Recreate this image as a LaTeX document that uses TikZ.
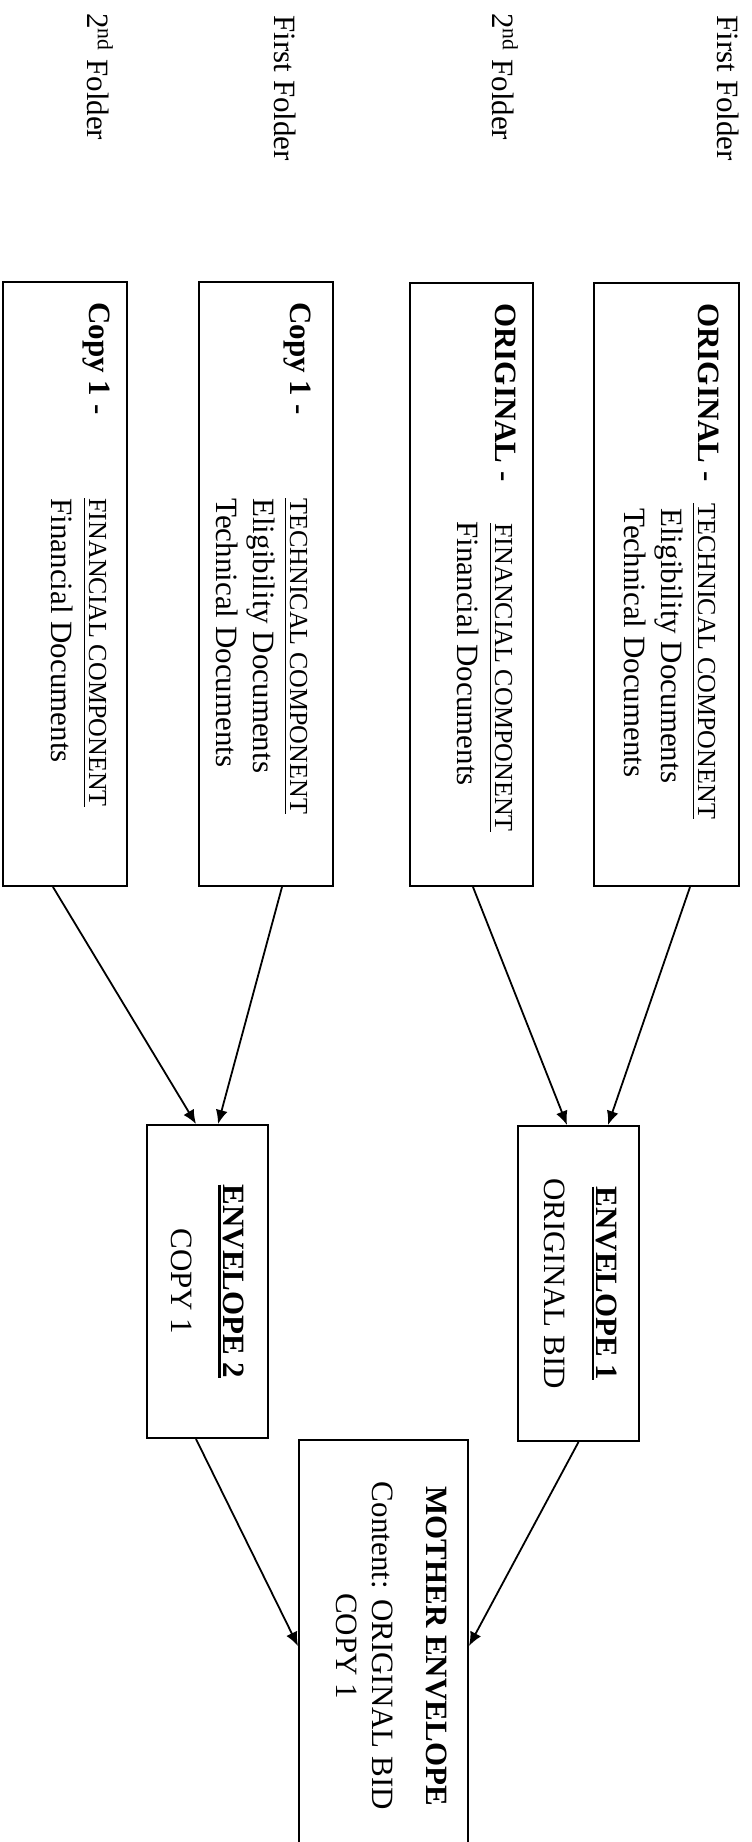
\documentclass[tikz,border=0pt]{standalone}
\usepackage{fontspec}
\setmainfont{Liberation Serif}
\usetikzlibrary{arrows.meta,calc}
\newsavebox\ulsavebox
\newcommand\ulbox[2]{\sbox\ulsavebox{#2}\rlap{\rule[-2.5pt]{\wd\ulsavebox}{#1}}\usebox\ulsavebox}
\newcommand\cmpx[1]{{\fontsize{13}{18.5}\selectfont\ulbox{0.5pt}{#1}}}
\begin{document}
\begin{tikzpicture}[x=0.5pt,y=-0.5pt,
  box/.style={draw=black,line width=1pt,inner sep=0pt,rectangle},
  txt/.style={rotate=-90,inner sep=0pt,font=\fontsize{15.5}{18.5}\selectfont},
  lbl/.style={rotate=-90,anchor=west,inner sep=0pt,font=\fontsize{15.5}{19}\selectfont},
  arr/.style={line width=0.9pt,-{Latex[length=7pt,width=6pt]}},
]
\useasboundingbox (0,0) rectangle (751,1842);
\fill[white] (0,0) rectangle (751,1842);
\clip (0,0) rectangle (751,1842);

% folder labels
\node[lbl] (l1) at (728,15) {First Folder};
\node[lbl] (l2) at (505,13) {2\textsuperscript{nd} Folder};
\node[lbl] (l3) at (285,15) {First Folder};
\node[lbl] (l4) at (100,13) {2\textsuperscript{nd} Folder};

% document boxes
\node[box,minimum width=72.5pt,minimum height=301.5pt] (bA) at (666.5,584.5) {};
\node[box,minimum width=61.5pt,minimum height=301.5pt] (bB) at (471.5,584.5) {};
\node[box,minimum width=67pt,minimum height=302pt] (bC) at (266,584) {};
\node[box,minimum width=62pt,minimum height=302pt] (bD) at (65,584) {};

\node[txt,anchor=base west] (tA) at (698,303) {\begin{tabular}[t]{@{}l@{}}
  \makebox[100pt][l]{\textbf{ORIGINAL -}}\cmpx{TECHNICAL COMPONENT}\\
  \hspace*{102.5pt}Eligibility Documents\\
  \hspace*{102.5pt}Technical Documents\end{tabular}};
\node[txt,anchor=base west,font=\fontsize{15.5}{19}\selectfont] (tB) at (495,303) {\begin{tabular}[t]{@{}l@{}}
  \makebox[110pt][l]{\textbf{ORIGINAL -}}\cmpx{FINANCIAL COMPONENT}\\
  \hspace*{109pt}Financial Documents\end{tabular}};
\node[txt,anchor=base west] (tC) at (290,302) {\begin{tabular}[t]{@{}l@{}}
  \makebox[98pt][l]{\textbf{Copy 1 -}}\cmpx{TECHNICAL COMPONENT}\\
  \hspace*{98pt}Eligibility Documents\\
  \hspace*{98pt}Technical Documents\end{tabular}};
\node[txt,anchor=base west,font=\fontsize{15.5}{19}\selectfont] (tD) at (89,302) {\begin{tabular}[t]{@{}l@{}}
  \makebox[98pt][l]{\textbf{Copy 1 -}}\cmpx{FINANCIAL COMPONENT}\\
  \hspace*{98pt}Financial Documents\end{tabular}};

% envelopes
\node[box,minimum width=60.5pt,minimum height=157.5pt] (e1) at (578.5,1283.5) {};
\node[box,minimum width=60.5pt,minimum height=156.5pt] (e2) at (207.5,1281.5) {};
\node[txt,align=center,font=\fontsize{15.5}{19.5}\selectfont] (tE1) at (581,1283.5) {\ulbox{1.3pt}{\textbf{ENVELOPE 1}}\\[6.5pt]ORIGINAL BID};
\node[txt,align=center,font=\fontsize{15.5}{19.5}\selectfont] (tE2) at (207.5,1281.5) {\ulbox{1.3pt}{\textbf{ENVELOPE 2}}\\[6.5pt]COPY 1};

% mother envelope
\node[box,minimum width=84.5pt,minimum height=206pt] (m) at (383.5,1646) {};
\node[txt,align=center,font=\fontsize{15.5}{18}\selectfont] (tM) at (392,1646) {\textbf{MOTHER ENVELOPE}\\[9pt]Content: ORIGINAL BID\\COPY 1};

% connectors
\draw[arr] ($(bA.south)+(23.5,0)$) -- ($(e1.north)+(29.5,0)$);
\draw[arr] ($(bB.south)+(1.5,0)$) -- ($(e1.north)+(-11.5,0)$);
\draw[arr] ($(bC.south)+(16,0)$) -- ($(e2.north)+(10.5,0)$);
\draw[arr] ($(bD.south)+(-12,0)$) -- ($(e2.north)+(-11.5,0)$);
\draw[arr] (e1.south) -- (m.east);
\draw[arr] ($(e2.south)+(-11.5,0)$) -- (m.west);
\end{tikzpicture}
\end{document}
